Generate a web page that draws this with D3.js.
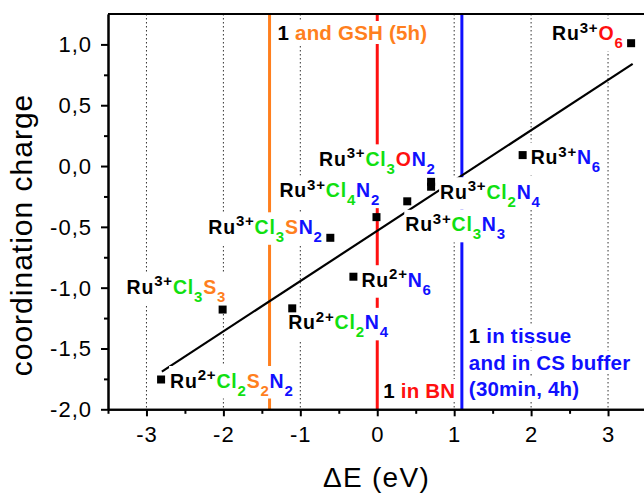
<!DOCTYPE html>
<html>
<head>
<meta charset="utf-8">
<script src="https://cdn.jsdelivr.net/npm/d3@7"></script>
<style>
  html, body { margin: 0; padding: 0; background: #fff; }
  svg { display: block; font-family: "Liberation Sans", Arial, sans-serif; }
</style>
</head>
<body>
<div id="chart"></div>
<script>
// data
const compounds = ["O6", "N6", "Cl3ON2", "Cl2N4", "Cl3N3", "Cl4N2", "Cl3SN2", "N6", "Cl2N4", "Cl3S3", "Cl2S2N2"];
const oxidation = ["3+", "3+", "3+", "3+", "3+", "3+", "3+", "2+", "2+", "3+", "2+"];
const deltaE = [3.3, 1.89, 0.7, 0.7, 0.39, -0.01, -0.61, -0.31, -1.105, -2.01, -2.81];
const coordCharge = [1.01, 0.09, -0.13, -0.17, -0.29, -0.42, -0.59, -0.91, -1.17, -1.18, -1.755];
const fitE = [-2.8, 3.32];
const fitCharge = [-1.69, 0.84];
const markerE = [-1.4, 0, 1.1];
const xTicks = [-3, -2, -1, 0, 1, 2, 3];
const xMinor = [-3.5, -2.5, -1.5, -0.5, 0.5, 1.5, 2.5];
const yTicks = [-2, -1.5, -1, -0.5, 0, 0.5, 1];
const yMinor = [-1.75, -1.25, -0.75, -0.25, 0.25, 0.75];
const gridE = [-3, -2, -1, 1, 2, 3];

// label placement (pixel offsets from the point)
const labelOffsets = [[-79, -3], [8, 9], [-112, -16], [9, 12], [-2, 30], [-97, -20], [-122, -4], [8, 10], [-4, 21], [-96, -16], [9, 8]];

const orange = "#ff7f1e", red = "#ff1010", blue = "#1010ff", green = "#10e010";
const elemColor = { Cl: green, O: red, N: blue, S: orange };

const W = 644, H = 495;
const svg = d3.select("#chart").append("svg").attr("width", W).attr("height", H);

const x = d3.scaleLinear().domain([-3.5, 3.5]).range([108, 646.5]);
const y = d3.scaleLinear().domain([-2, 1.25]).range([409.3, 14]);

// dotted grid
svg.append("g")
  .selectAll("line")
  .data(gridE)
  .join("line")
  .attr("x1", (d) => x(d))
  .attr("x2", (d) => x(d))
  .attr("y1", y(1.25))
  .attr("y2", y(-2))
  .attr("stroke", "#333")
  .attr("stroke-width", 1)
  .attr("stroke-dasharray", "1.5,2.5");

// vertical marker lines
svg.append("g")
  .selectAll("line")
  .data(markerE)
  .join("line")
  .attr("x1", (d) => x(d))
  .attr("x2", (d) => x(d))
  .attr("y1", y(1.25))
  .attr("y2", y(-2))
  .attr("stroke", (d, i) => [orange, red, blue][i])
  .attr("stroke-width", 3);

// linear fit
svg.append("line")
  .attr("x1", x(fitE[0]))
  .attr("y1", y(fitCharge[0]))
  .attr("x2", x(fitE[1]))
  .attr("y2", y(fitCharge[1]))
  .attr("stroke", "#000")
  .attr("stroke-width", 2.2);

const bg = svg.append("g");
const labels = svg.append("g").attr("font-weight", "bold");

function withBackground(t) {
  const b = t.node().getBBox();
  bg.append("rect")
    .attr("x", b.x - 1)
    .attr("y", b.y)
    .attr("width", b.width + 1)
    .attr("height", b.height)
    .attr("fill", "#fff");
}

function formula(px, py, ox, lig) {
  const t = labels.append("text")
    .attr("x", px)
    .attr("y", py)
    .attr("letter-spacing", "0.8px");
  let cur = 0;
  const part = (str, size, color, off) => {
    t.append("tspan")
      .attr("dy", off - cur)
      .attr("font-size", size)
      .attr("fill", color)
      .text(str);
    cur = off;
  };
  part("Ru", 19.5, "#000", 0);
  part(ox, 15, "#000", -7.5);
  for (const m of lig.matchAll(/([A-Z][a-z]?)(\d*)/g)) {
    part(m[1], 19.5, elemColor[m[1]], 0);
    if (m[2]) part(m[2], 15, elemColor[m[1]], 8);
  }
  withBackground(t);
}

compounds.forEach((c, i) => {
  formula(x(deltaE[i]) + labelOffsets[i][0], y(coordCharge[i]) + labelOffsets[i][1], oxidation[i], c);
});

function note(px, py, lines, color) {
  lines.forEach((ln, i) => {
    const t = labels.append("text")
      .attr("x", px)
      .attr("y", py + i * 26.5)
      .attr("font-size", 20.5)
      .attr("letter-spacing", "0.2px");
    if (i === 0) {
      t.append("tspan").attr("fill", "#000").text("1 ");
    }
    t.append("tspan").attr("fill", color).text(ln);
    withBackground(t);
  });
}
note(x(markerE[0]) + 8, 40, ["and GSH (5h)"], orange);
note(x(markerE[1]) + 6, 398, ["in BN"], red);
note(x(markerE[2]) + 7, 343, ["in tissue", "and in CS buffer", "(30min, 4h)"], blue);

// data points
svg.append("g")
  .selectAll("rect")
  .data(deltaE)
  .join("rect")
  .attr("x", (d) => x(d) - 4)
  .attr("y", (d, i) => y(coordCharge[i]) - 4)
  .attr("width", 8)
  .attr("height", 8)
  .attr("fill", "#000");

// axes
const xAxis = svg.append("g").attr("transform", `translate(0,${y(-2)})`);
xAxis.call(d3.axisBottom(x).tickValues(xMinor).tickSize(4.5).tickSizeOuter(0).tickFormat(""));
const xMajor = svg.append("g").attr("transform", `translate(0,${y(-2)})`)
  .call(d3.axisBottom(x).tickValues(xTicks).tickSize(7).tickSizeOuter(0).tickFormat((d) => String(d)));
xMajor.selectAll("text")
  .attr("y", 33)
  .attr("dy", 0)
  .attr("font-size", 22)
  .attr("letter-spacing", "1px")
  .attr("font-family", "Liberation Sans, Arial, sans-serif")
  .attr("fill", "#000");

const yAxis = svg.append("g").attr("transform", `translate(${x(-3.5)},0)`);
yAxis.call(d3.axisLeft(y).tickValues(yMinor).tickSize(4).tickSizeOuter(0).tickFormat(""));
const yMajor = svg.append("g").attr("transform", `translate(${x(-3.5)},0)`)
  .call(d3.axisLeft(y).tickValues(yTicks).tickSize(7).tickSizeOuter(0)
    .tickFormat((d) => d.toFixed(1).replace(".", ",")));
yMajor.selectAll("text")
  .attr("x", -16)
  .attr("dy", "0.34em")
  .attr("font-size", 22)
  .attr("letter-spacing", "1px")
  .attr("font-family", "Liberation Sans, Arial, sans-serif")
  .attr("fill", "#000");

svg.selectAll(".domain, .tick line").attr("stroke", "#000").attr("stroke-width", 2);

// top frame
svg.append("line")
  .attr("x1", x(-3.5))
  .attr("x2", x(3.5))
  .attr("y1", y(1.25))
  .attr("y2", y(1.25))
  .attr("stroke", "#000")
  .attr("stroke-width", 2);

// axis titles
svg.append("text")
  .attr("text-anchor", "middle")
  .attr("x", 376.5)
  .attr("y", 487)
  .attr("font-size", 28)
  .attr("letter-spacing", "1.3px")
  .text("ΔE (eV)");

svg.append("text")
  .attr("text-anchor", "middle")
  .attr("transform", "translate(32,235) rotate(-90)")
  .attr("font-size", 30)
  .attr("letter-spacing", "1px")
  .text("coordination charge");
</script>
</body>
</html>
